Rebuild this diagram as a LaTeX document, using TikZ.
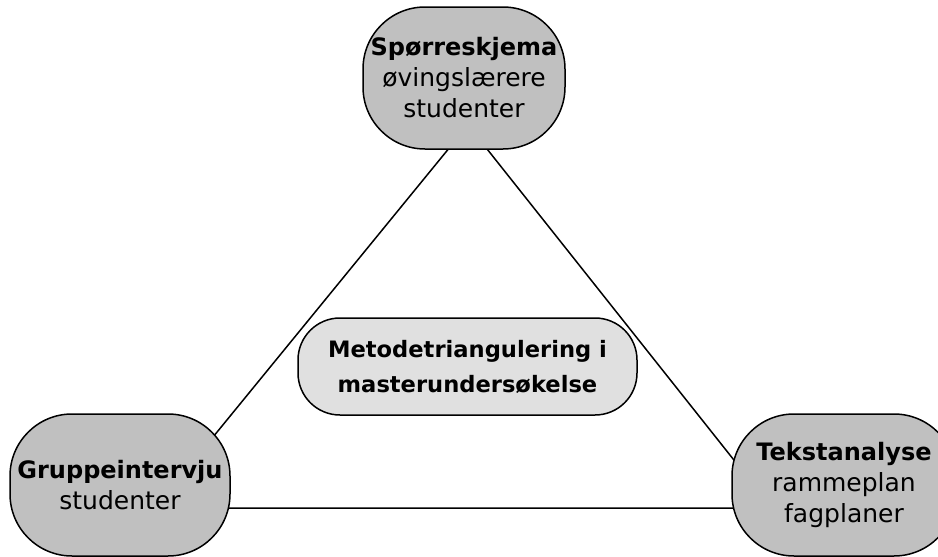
\documentclass[tikz,border=0pt]{standalone}
\usepackage{fontspec}
\setmainfont{DejaVu Sans}
\definecolor{boxgray}{HTML}{C0C0C0}
\definecolor{centergray}{HTML}{E0E0E0}
\begin{document}
\begin{tikzpicture}[x=1pt,y=-1pt,
  method/.style={draw=black, line width=1.5pt, fill=boxgray, rounded corners=62pt,
    inner sep=0pt, align=center, font=\fontsize{25}{31}\selectfont},
  hub/.style={draw=black, line width=1.5pt, fill=centergray, rounded corners=42pt,
    inner sep=0pt, align=center, font=\fontsize{22.6}{35}\selectfont\bfseries},
  ttl/.style={font=\fontsize{24}{31}\selectfont\bfseries},
  edge/.style={line width=1.5pt}]
\useasboundingbox (0,0) rectangle (938,557);
\clip (0,0) rectangle (938,557);
\coordinate (A) at (468,125);
\coordinate (B) at (155,508);
\coordinate (C) at (772,508);
\draw[edge] (A) -- (B) -- (C) -- cycle;
\node[method, minimum width=202pt, minimum height=142pt] (top) at (464,78)
  {{\fontsize{24}{31}\selectfont\bfseries Spørreskjema}\\øvingslærere\\studenter};
\node[method, minimum width=220pt, minimum height=142pt] (left) at (120,485)
  {{\fontsize{24}{31}\selectfont\bfseries Gruppeintervju}\\studenter};
\node[method, minimum width=224pt, minimum height=142pt] (right) at (844,485)
  {{\fontsize{24}{31}\selectfont\bfseries Tekstanalyse}\\rammeplan\\fagplaner};
\node[hub, minimum width=339pt, minimum height=97pt] (hub) at (467.5,366.5)
  {Metodetriangulering i\\masterundersøkelse};
\end{tikzpicture}
\end{document}
